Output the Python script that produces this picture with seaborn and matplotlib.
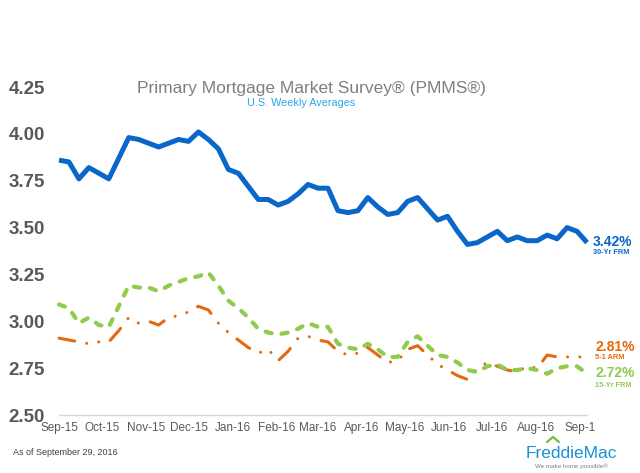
import pandas as pd
import matplotlib.pyplot as plt
from matplotlib.lines import Line2D
import seaborn as sns

# weekly PMMS averages, Sep 24 2015 - Sep 29 2016
dates = pd.date_range("2015-09-24", periods=54, freq="7D")
frm30 = [3.86, 3.85, 3.76, 3.82, 3.79, 3.76, 3.87, 3.98, 3.97, 3.95,
         3.93, 3.95, 3.97, 3.96, 4.01, 3.97, 3.92, 3.81, 3.79, 3.72,
         3.65, 3.65, 3.62, 3.64, 3.68, 3.73, 3.71, 3.71, 3.59, 3.58,
         3.59, 3.66, 3.61, 3.57, 3.58, 3.64, 3.66, 3.60, 3.54, 3.56,
         3.48, 3.41, 3.42, 3.45, 3.48, 3.43, 3.45, 3.43, 3.43, 3.46,
         3.44, 3.50, 3.48, 3.42]
frm15 = [3.09, 3.07, 2.99, 3.02, 2.98, 2.97, 3.08, 3.19, 3.18, 3.18,
         3.16, 3.19, 3.21, 3.23, 3.24, 3.26, 3.19, 3.11, 3.07, 3.02,
         2.96, 2.94, 2.93, 2.94, 2.96, 2.99, 2.97, 2.97, 2.88, 2.86,
         2.85, 2.88, 2.85, 2.81, 2.81, 2.89, 2.92, 2.87, 2.82, 2.81,
         2.78, 2.74, 2.73, 2.76, 2.77, 2.74, 2.74, 2.75, 2.74, 2.72,
         2.75, 2.76, 2.76, 2.72]
arm51 = [2.91, 2.90, 2.89, 2.88, 2.89, 2.89, 2.95, 3.02, 2.99, 3.00,
         2.98, 3.02, 3.03, 3.05, 3.08, 3.06, 2.99, 2.94, 2.90, 2.86,
         2.83, 2.85, 2.79, 2.84, 2.91, 2.92, 2.90, 2.89, 2.84, 2.82,
         2.83, 2.86, 2.82, 2.78, 2.79, 2.85, 2.87, 2.82, 2.77, 2.74,
         2.71, 2.69, 2.75, 2.78, 2.76, 2.74, 2.73, 2.76, 2.75, 2.82,
         2.81, 2.81, 2.81, 2.81]

tick_dates = pd.date_range("2015-09-24", periods=13, freq=pd.DateOffset(months=1))
tick_labels = ["Sep-15", "Oct-15", "Nov-15", "Dec-15", "Jan-16", "Feb-16", "Mar-16",
               "Apr-16", "May-16", "Jun-16", "Jul-16", "Aug-16", "Sep-1"]
y_ticks = [2.50, 2.75, 3.00, 3.25, 3.50, 3.75, 4.00, 4.25]

blue = "#0a67c9"
orange = "#e4690f"
green = "#8fcb4c"

sns.set_theme(style="white")
plt.rcParams["font.family"] = ["Liberation Sans", "DejaVu Sans"]

fig = plt.figure(figsize=(6.4, 4.73), dpi=100)
ax = fig.add_axes([59 / 640, 58 / 473, 528 / 640, 328 / 473])

sns.lineplot(x=dates, y=arm51, ax=ax, color=orange, linewidth=2.2,
             linestyle=(0, (5.2, 4.0, 0.01, 4.0, 0.01, 4.0)),
             dash_capstyle="round", clip_on=False)
sns.lineplot(x=dates, y=frm15, ax=ax, color=green, linewidth=3.0,
             linestyle=(0, (1.5, 2.4)), dash_capstyle="round", clip_on=False)
sns.lineplot(x=dates, y=frm30, ax=ax, color=blue, linewidth=3.6,
             solid_joinstyle="round", solid_capstyle="butt", clip_on=False)

ax.set_xlim(dates[0], dates[-1])
ax.set_ylim(2.5, 4.25)
ax.set_xticks(tick_dates)
ax.set_xticklabels(tick_labels, fontsize=8.5, color="#595959")
ax.set_yticks(y_ticks)
ax.set_yticklabels([f"{v:.2f}" for v in y_ticks], fontsize=13.5,
                   fontweight="bold", color="#595959")
ax.tick_params(axis="x", length=0, pad=5)
ax.tick_params(axis="y", length=0, pad=10)
ax.set_xlabel("")
ax.set_ylabel("")
for side in ["left", "right", "top"]:
    ax.spines[side].set_visible(False)
ax.spines["bottom"].set_color("#d9d9d9")
ax.spines["bottom"].set_linewidth(1)
ax.grid(False)

fig.text(311 / 640, 1 - 88 / 473, "Primary Mortgage Market Survey® (PMMS®)",
         fontsize=12.5, color="#7f7f7f", ha="center", va="center")
fig.text(301 / 640, 1 - 103 / 473, "U.S. Weekly Averages",
         fontsize=7.8, color="#2aa7e8", ha="center", va="center")

# end-of-line labels
fig.text(593 / 640, 1 - 242 / 473, "3.42%", fontsize=10, fontweight="bold",
         color=blue, va="center")
fig.text(593 / 640, 1 - 253 / 473, "30-Yr FRM", fontsize=5.3, fontweight="bold",
         color=blue, va="center")
fig.text(595 / 640, 1 - 347 / 473, "2.81%", fontsize=10, fontweight="bold",
         color=orange, va="center")
fig.text(595 / 640, 1 - 357 / 473, "5-1 ARM", fontsize=5.3, fontweight="bold",
         color=orange, va="center")
fig.text(595 / 640, 1 - 373 / 473, "2.72%", fontsize=10, fontweight="bold",
         color=green, va="center")
fig.text(595 / 640, 1 - 385 / 473, "15-Yr FRM", fontsize=5.3, fontweight="bold",
         color=green, va="center")

fig.text(13 / 640, 1 - 452 / 473, "As of September 29, 2016", fontsize=6.5,
         color="#404040", va="center")

# Freddie Mac logo
fig.text(571 / 640, 1 - 453 / 473, "FreddieMac", fontsize=12.5, color="#1b8fd8",
         ha="center", va="center")
fig.text(571 / 640, 1 - 466 / 473, "We make home possible®", fontsize=4.5,
         color="#7f7f7f", ha="center", va="center")
fig.add_artist(Line2D([547 / 640, 553 / 640, 559 / 640],
                      [1 - 442 / 473, 1 - 437 / 473, 1 - 442 / 473],
                      color="#6cbf3c", linewidth=1.6, transform=fig.transFigure))

fig.savefig("out.png", dpi=100)
